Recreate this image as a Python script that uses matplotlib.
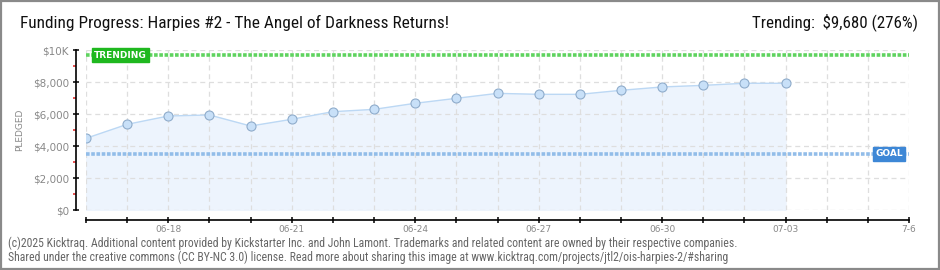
import matplotlib
matplotlib.use("Agg")
import matplotlib.pyplot as plt
from matplotlib.patches import Rectangle
from matplotlib.ticker import FixedLocator
from matplotlib import font_manager as fm

# ---- data ----
days = list(range(18))  # 06-16 .. 07-03
pledged = [4480, 5355, 5875, 5940, 5250, 5670, 6145, 6290, 6670, 6980,
           7290, 7230, 7230, 7480, 7690, 7790, 7920, 7920]
trending = 9680
goal = 3500
trend_pct = 276
x_max_day = 20
tick_days = [2, 5, 8, 11, 14, 17, 20]
tick_labels = ['06-18', '06-21', '06-24', '06-27', '06-30', '07-03', '7-6']
y_ticks = [0, 2000, 4000, 6000, 8000, 10000]
y_labels = ['$0', '$2,000', '$4,000', '$6,000', '$8,000', '$10K']
title = "Funding Progress: Harpies #2 - The Angel of Darkness Returns!"

names = {f.name for f in fm.fontManager.ttflist}
cond = [f for f in fm.fontManager.ttflist if 'Condensed' in f.fname or 'Narrow' in f.fname]
narrow_family = None
for cand in ['Liberation Sans Narrow', 'Roboto Condensed', 'Open Sans Condensed',
             'DejaVu Sans Condensed']:
    if cand in names:
        narrow_family = cand
        break


def nfont(size):
    if narrow_family:
        return fm.FontProperties(family=narrow_family, size=size)
    if cond:
        return fm.FontProperties(fname=cond[0].fname, size=size)
    return fm.FontProperties(family='DejaVu Sans', stretch='condensed', size=size)


fig = plt.figure(figsize=(9.4, 2.7), dpi=100)
fig.patch.set_facecolor('white')
ax = fig.add_axes([86/940, 60/270, 823/940, 160/270])

# grid
for d in range(x_max_day + 1):
    ax.axvline(d, color='#dedede', lw=0.9, dashes=(4, 3), zorder=1)
for v in y_ticks:
    ax.axhline(v, color='#dedede', lw=0.9, dashes=(4, 3), zorder=1)

ax.fill_between(days, pledged, 0, color='#edf4fd', zorder=0.5)
ax.plot(days, pledged, color='#bcd8f4', lw=1.0, zorder=3)
ax.plot(days, pledged, ls='none', marker='o', ms=6.5, mfc='#c8e0f8',
        mec='#8faccb', mew=0.8, zorder=4)

# trending & goal lines
ax.plot([0, x_max_day], [trending, trending], color='#5fd35f', lw=2.6,
        dashes=(1, 0.45), dash_capstyle='butt', zorder=2, clip_on=False)
ax.plot([0, x_max_day], [goal, goal], color='#92bde9', lw=2.6,
        dashes=(1, 0.45), dash_capstyle='butt', zorder=2, clip_on=False)

ax.text(0.2, trending, 'TRENDING', color='white', fontsize=6.5, fontweight='bold',
        va='center', ha='left', family='DejaVu Sans', zorder=6,
        bbox=dict(boxstyle='square,pad=0.25', fc='#1fb81f', ec='#1fb81f'))
ax.text(19.85, goal, 'GOAL', color='white', fontsize=6.5, fontweight='bold',
        va='center', ha='right', family='DejaVu Sans', zorder=6,
        bbox=dict(boxstyle='square,pad=0.25', fc='#3d87d6', ec='#3d87d6'))

ax.set_xlim(0, x_max_day)
ax.set_ylim(0, 10000)

for s in ['top', 'right']:
    ax.spines[s].set_visible(False)
ax.spines['left'].set_position(('outward', 7.2))
ax.spines['bottom'].set_position(('outward', 7.2))
ax.spines['left'].set_linewidth(1.2)
ax.spines['bottom'].set_linewidth(1.2)

ax.set_xticks(range(x_max_day + 1))
lab = [''] * (x_max_day + 1)
for d, t in zip(tick_days, tick_labels):
    lab[d] = t
ax.set_xticklabels(lab)
ax.tick_params(axis='x', direction='inout', length=4, width=1.1, colors='black',
               labelcolor='#888888', labelsize=6.5, pad=1.5)
ax.set_yticks(y_ticks)
ax.set_yticklabels([l.replace('$', r'\$') for l in y_labels])
ax.tick_params(axis='y', direction='inout', length=4, width=1.1, colors='black',
               labelcolor='#888888', labelsize=7.5, pad=3)
ax.yaxis.set_minor_locator(FixedLocator([1000, 3000, 5000, 7000, 9000]))
ax.tick_params(axis='y', which='minor', direction='out', length=2, width=1.1, colors='#e02020')

fig.text(20/940, 1 - 130/270, 'PLEDGED', rotation=90, fontsize=6.5,
         color='#888888', va='center', ha='center')

fig.text(20/940, 1 - 23/270, title, fontproperties=nfont(12.4),
         color='#111111', va='center', ha='left')
fig.text(918/940, 1 - 22/270, r'Trending:  \$9,680 (' + f'{trend_pct}%)',
         fontproperties=nfont(12.2), color='#111111', va='center', ha='right')

fig.text(8/940, 1 - 243/270,
         "(c)2025 Kicktraq. Additional content provided by Kickstarter Inc. and John Lamont. "
         "Trademarks and related content are owned by their respective companies.",
         fontproperties=nfont(8.5), color='#666666', va='center', ha='left')
fig.text(8/940, 1 - 257/270,
         "Shared under the creative commons (CC BY-NC 3.0) license. Read more about sharing "
         "this image at www.kicktraq.com/projects/jtl2/ois-harpies-2/#sharing",
         fontproperties=nfont(8.5), color='#666666', va='center', ha='left')

fig.patches.append(Rectangle((0.001, 0.002), 0.998, 0.996, transform=fig.transFigure,
                             fill=False, ec='#8a8a8a', lw=1.6))

fig.savefig('out.png', dpi=100)
